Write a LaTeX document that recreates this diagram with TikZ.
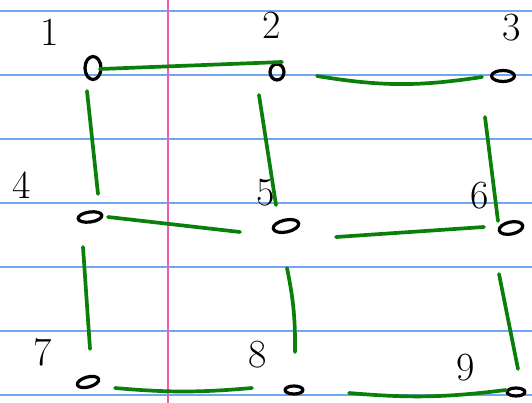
\documentclass[tikz,border=0pt]{standalone}
\usepackage{xcolor}
\usepackage{tikz}
\usetikzlibrary{shapes.geometric}
\definecolor{ruleblue}{HTML}{6FA8EE}
\definecolor{marginpink}{HTML}{F25AAE}
\definecolor{linkgreen}{HTML}{0A800A}
\tikzset{
    every picture/.style={line cap=round,line join=round},
    paperline/.style={draw=ruleblue,line width=1.5pt},
    marginline/.style={draw=marginpink,line width=1.3pt},
    dot/.style={ellipse,draw=black,line width=3.2pt,inner sep=0pt},
    digit/.style={inner sep=0pt,font=\fontsize{40}{40}\selectfont},
    link/.style={draw=linkgreen,line width=3.7pt}
}
\begin{document}
\begin{tikzpicture}[x=1pt,y=-1pt]
  \useasboundingbox[fill=white] (0,0) rectangle (532,403);
  % ruled paper
  \foreach \y in {11,75,...,395}\draw[paperline] (0,\y)--(532,\y);
  \draw[marginline] (168,0)--(168,403);
  % vertices
  \node[dot,minimum width=16pt,minimum height=23pt] (n1) at (93,68){};
  \node[dot,minimum width=14pt,minimum height=16pt] (n2) at (277,72){};
  \node[dot,minimum width=23pt,minimum height=11pt] (n3) at (503,76){};
  \node[dot,minimum width=24pt,minimum height=10pt,rotate=8] (n4) at (90,217){};
  \node[dot,minimum width=26pt,minimum height=12pt,rotate=12] (n5) at (286,226){};
  \node[dot,minimum width=24pt,minimum height=12pt,rotate=12] (n6) at (511,228){};
  \node[dot,minimum width=22pt,minimum height=10pt,rotate=15] (n7) at (88,382){};
  \node[dot,minimum width=18pt,minimum height=8pt] (n8) at (294,390){};
  \node[dot,minimum width=18pt,minimum height=8pt] (n9) at (516,392){};
  % labels
  \node[digit] (l1) at (50,32){1};
  \node[digit] (l2) at (272,25){2};
  \node[digit] (l3) at (512,28){3};
  \node[digit] (l4) at (22,185){4};
  \node[digit] (l5) at (266,193){5};
  \node[digit] (l6) at (480,196){6};
  \node[digit] (l7) at (43,352){7};
  \node[digit] (l8) at (258,355){8};
  \node[digit] (l9) at (466,368){9};
  % edges
  \draw[link] ([shift={(7,1)}]n1.center)--([shift={(5,-10)}]n2.center);
  \draw[link] ([shift={(40,4)}]n2.center) to[bend right=9] ([shift={(-21,1)}]n3.center);
  \draw[link] ([shift={(-6,23)}]n1.center)--([shift={(8,-23)}]n4.center);
  \draw[link] ([shift={(-18,23)}]n2.center)--([shift={(-10,-21)}]n5.center);
  \draw[link] ([shift={(-18,41)}]n3.center)--([shift={(-13,-7)}]n6.center);
  \draw[link] ([shift={(18,0)}]n4.center)--([shift={(-46,6)}]n5.center);
  \draw[link] ([shift={(50,11)}]n5.center)--([shift={(-27,-1)}]n6.center);
  \draw[link] ([shift={(-7,30)}]n4.center)--([shift={(2,-33)}]n7.center);
  \draw[link] ([shift={(1,42)}]n5.center) to[bend left=6] ([shift={(1,-38)}]n8.center);
  \draw[link] ([shift={(-12,46)}]n6.center)--([shift={(2,-23)}]n9.center);
  \draw[link] ([shift={(27,6)}]n7.center) to[bend right=5] ([shift={(-42,-2)}]n8.center);
  \draw[link] ([shift={(55,3)}]n8.center) to[bend right=6] ([shift={(-10,-2)}]n9.center);
\end{tikzpicture}
\end{document}
